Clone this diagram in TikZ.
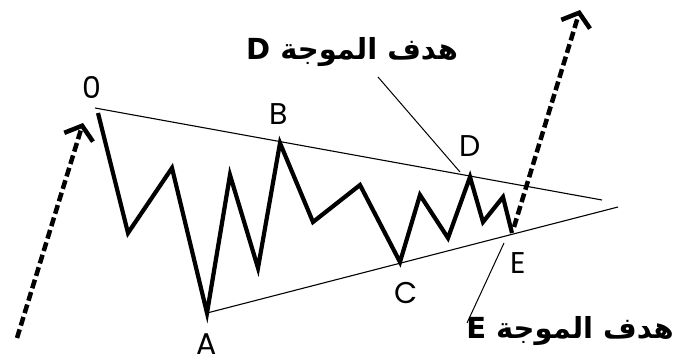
\documentclass[tikz,border=0pt]{standalone}
\usepackage{fontspec}
\setmainfont{Poppins}
\newfontfamily\arabicfont[Script=Arabic]{DejaVu Sans}
\TeXXeTstate=1
\usetikzlibrary{positioning, arrows.meta}

\begin{document}
\begin{tikzpicture}[x=1pt, y=-1pt,
            wave/.style={line width=4.2pt, line join=miter},
            trendline/.style={line width=1.1pt},
            leader/.style={line width=1pt},
            breakout/.style={line width=4.5pt, dash pattern=on 9pt off 4pt, -{Straight Barb[length=12pt, width=30pt]}},
            wavelabel/.style={font=\fontsize{30}{30}\selectfont, inner sep=0pt},
            targetlabel/.style={font=\arabicfont\bfseries\fontsize{29}{29}\selectfont, inner sep=0pt}
        ]
        \useasboundingbox (0,0) rectangle (677,362);

        % Wellenpunkte
        \coordinate (o) at (98,113);
        \coordinate (w1) at (128,233);
        \coordinate (w2) at (172,168);
        \coordinate (a) at (207,313);
        \coordinate (w3) at (230,175);
        \coordinate (w4) at (258,268);
        \coordinate (b) at (280,143);
        \coordinate (w5) at (313,222);
        \coordinate (w6) at (360,185);
        \coordinate (c) at (400,262);
        \coordinate (w7) at (420,195);
        \coordinate (w8) at (448,238);
        \coordinate (d) at (470,177);
        \coordinate (w9) at (483,222);
        \coordinate (w10) at (503,197);
        \coordinate (e) at (512,233);

        % Trendlinien
        \coordinate (upstart) at (95,108);
        \coordinate (upend) at (602,200);
        \coordinate (lowend) at (618,207);
        \draw[trendline] (upstart) -- (upend);
        \draw[trendline] (a) -- (lowend);

        % Welle
        \draw[wave] (o) -- (w1) -- (w2) -- (a) -- (w3) -- (w4) -- (b) -- (w5) -- (w6) -- (c) -- (w7) -- (w8) -- (d) -- (w9) -- (w10) -- (e);

        % Pfeile
        \coordinate (intail) at (17,338);
        \coordinate (inhead) at (83,123);
        \coordinate (outtail) at (514,227);
        \coordinate (outhead) at (580,10);
        \draw[breakout] (intail) -- (inhead);
        \draw[breakout] (outtail) -- (outhead);

        % Beschriftungen
        \node[wavelabel] (lo) at (92,87) {0};
        \node[wavelabel] (lb) at (279,114) {B};
        \node[wavelabel] (la) at (207,344) {A};
        \node[wavelabel] (lc) at (406,293) {C};
        \node[wavelabel] (ld) at (470,146) {D};
        \node[wavelabel] (le) at (518,263) {E};

        \node[targetlabel] (targetd) at (352,52) {\beginR هدف الموجة D\endR};
        \node[targetlabel] (targete) at (570,331) {\beginR هدف الموجة E\endR};

        \coordinate (dleadtop) at (378,77);
        \coordinate (dleadend) at (460,172);
        \coordinate (eleadtop) at (504,243);
        \coordinate (eleadend) at (467,323);
        \draw[leader] (dleadtop) -- (dleadend);
        \draw[leader] (eleadtop) -- (eleadend);

    \end{tikzpicture}
\end{document}
